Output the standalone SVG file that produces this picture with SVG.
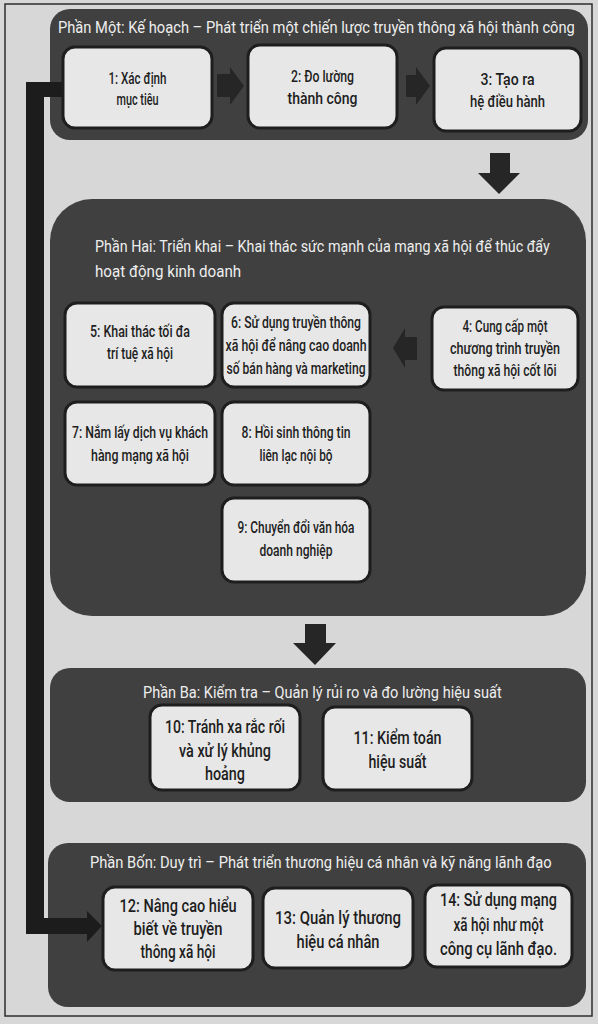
<svg xmlns="http://www.w3.org/2000/svg" width="598" height="1024" viewBox="0 0 598 1024">
<style>
.panel{fill:#404040}
.box{fill:#e7e7e7;stroke:#1e1e1e;stroke-width:3}
.title{font-family:Roboto,"Noto Sans","Liberation Sans",sans-serif;font-size:17px;fill:#eeeeee}
.t{font-family:Roboto,"Noto Sans","Liberation Sans",sans-serif;font-weight:500;fill:#1e1e1e;text-anchor:middle}
.s1{font-size:17px}
.s2{font-size:16px}
.s3{font-size:18.5px}
.arr{fill:#262626}
.bar{fill:#1c1c1c}
</style>
<rect x="0" y="0" width="598" height="1024" fill="#d7d7d7"/>
<rect x="5" y="4" width="587" height="1012" fill="none" stroke="#2e2e2e" stroke-width="1.5"/>

<g id="phase1">
<rect class="panel" x="50" y="9" width="538" height="131" rx="20"/>
<text class="title" transform="translate(58,33) scale(0.85,1)" x="0" y="0" textLength="608" lengthAdjust="spacingAndGlyphs">Phần Một: Kế hoạch – Phát triển một chiến lược truyền thông xã hội thành công</text>
</g>
<g id="phase2">
<rect class="panel" x="50" y="199" width="536" height="417" rx="42"/>
<text class="title" transform="translate(95,252) scale(0.85,1)" x="0" y="0" textLength="535" lengthAdjust="spacingAndGlyphs">Phần Hai: Triển khai – Khai thác sức mạnh của mạng xã hội để thúc đẩy</text>
<text class="title" transform="translate(95,277) scale(0.85,1)" x="0" y="0" textLength="172" lengthAdjust="spacingAndGlyphs">hoạt động kinh doanh</text>
</g>
<g id="phase3">
<rect class="panel" x="50" y="668" width="536" height="134" rx="20"/>
<text class="title" transform="translate(143,698) scale(0.85,1)" x="0" y="0" textLength="422" lengthAdjust="spacingAndGlyphs">Phần Ba: Kiểm tra – Quản lý rủi ro và đo lường hiệu suất</text>
</g>
<g id="phase4">
<rect class="panel" x="48" y="843" width="538" height="164" rx="20"/>
<text class="title" transform="translate(90,868) scale(0.85,1)" x="0" y="0" textLength="543" lengthAdjust="spacingAndGlyphs">Phần Bốn: Duy trì – Phát triển thương hiệu cá nhân và kỹ năng lãnh đạo</text>
</g>

<g id="connectors">
<path class="bar" d="M26,82 H63 V97 H44 V918 H87 V911 L102,926 L87,942 V934 H26 Z"/>
<path class="arr" d="M217,74 H230 V67 L244,86 L230,105 V97 H217 Z"/>
<path class="arr" d="M406,75 H416 V67 L430,86 L416,105 V97 H406 Z"/>
<path class="arr" d="M417,337 H405 V328 L393,348 L405,368 V360 H417 Z"/>
<path class="arr" d="M490,153 H510 V173 H520 L499,194 L478,173 H490 Z"/>
<path class="arr" d="M305,624 H326 V643 H336 L315,665 L293,643 H305 Z"/>
</g>

<g id="node1">
<rect class="box" x="63" y="47" width="149" height="81" rx="12"/>
<text class="t s1" x="137.5" y="84" textLength="58" lengthAdjust="spacingAndGlyphs">1: Xác định</text>
<text class="t s1" x="137.5" y="105" textLength="42" lengthAdjust="spacingAndGlyphs">mục tiêu</text>
</g>
<g id="node2">
<rect class="box" x="248" y="45" width="149" height="83" rx="12"/>
<text class="t s1" x="322.5" y="82" textLength="63" lengthAdjust="spacingAndGlyphs">2: Đo lường</text>
<text class="t s1" x="322.5" y="104" textLength="70" lengthAdjust="spacingAndGlyphs">thành công</text>
</g>
<g id="node3">
<rect class="box" x="434" y="48" width="147" height="83" rx="12"/>
<text class="t s1" x="507.5" y="85" textLength="54" lengthAdjust="spacingAndGlyphs">3: Tạo ra</text>
<text class="t s1" x="507.5" y="107" textLength="75" lengthAdjust="spacingAndGlyphs">hệ điều hành</text>
</g>
<g id="node4">
<rect class="box" x="432" y="307" width="146" height="83" rx="12"/>
<text class="t s2" x="505" y="332" textLength="85" lengthAdjust="spacingAndGlyphs">4: Cung cấp một</text>
<text class="t s2" x="505" y="354" textLength="110" lengthAdjust="spacingAndGlyphs">chương trình truyền</text>
<text class="t s2" x="505" y="376" textLength="103" lengthAdjust="spacingAndGlyphs">thông xã hội cốt lõi</text>
</g>
<g id="node5">
<rect class="box" x="65" y="303" width="150" height="84" rx="12"/>
<text class="t s2" x="140" y="337" textLength="100" lengthAdjust="spacingAndGlyphs">5: Khai thác tối đa</text>
<text class="t s2" x="140" y="359" textLength="66" lengthAdjust="spacingAndGlyphs">trí tuệ xã hội</text>
</g>
<g id="node6">
<rect class="box" x="222" y="303" width="148" height="84" rx="12"/>
<text class="t s2" x="296" y="328" textLength="130" lengthAdjust="spacingAndGlyphs">6: Sử dụng truyền thông</text>
<text class="t s2" x="296" y="351" textLength="141" lengthAdjust="spacingAndGlyphs">xã hội để nâng cao doanh</text>
<text class="t s2" x="296" y="374" textLength="139" lengthAdjust="spacingAndGlyphs">số bán hàng và marketing</text>
</g>
<g id="node7">
<rect class="box" x="65" y="402" width="150" height="83" rx="12"/>
<text class="t s2" x="140" y="438" textLength="136" lengthAdjust="spacingAndGlyphs">7: Nắm lấy dịch vụ khách</text>
<text class="t s2" x="140" y="461" textLength="98" lengthAdjust="spacingAndGlyphs">hàng mạng xã hội</text>
</g>
<g id="node8">
<rect class="box" x="222" y="402" width="148" height="83" rx="12"/>
<text class="t s2" x="296" y="438" textLength="109" lengthAdjust="spacingAndGlyphs">8: Hồi sinh thông tin</text>
<text class="t s2" x="296" y="461" textLength="73" lengthAdjust="spacingAndGlyphs">liên lạc nội bộ</text>
</g>
<g id="node9">
<rect class="box" x="222" y="498" width="148" height="84" rx="12"/>
<text class="t s2" x="296" y="533" textLength="117" lengthAdjust="spacingAndGlyphs">9: Chuyển đổi văn hóa</text>
<text class="t s2" x="296" y="556" textLength="73" lengthAdjust="spacingAndGlyphs">doanh nghiệp</text>
</g>
<g id="node10">
<rect class="box" x="150" y="705" width="150" height="85" rx="12"/>
<text class="t s3" x="225" y="733" textLength="120" lengthAdjust="spacingAndGlyphs">10: Tránh xa rắc rối</text>
<text class="t s3" x="225" y="757" textLength="92" lengthAdjust="spacingAndGlyphs">và xử lý khủng</text>
<text class="t s3" x="225" y="780" textLength="40" lengthAdjust="spacingAndGlyphs">hoảng</text>
</g>
<g id="node11">
<rect class="box" x="323" y="707" width="149" height="83" rx="12"/>
<text class="t s3" x="397.5" y="744" textLength="88" lengthAdjust="spacingAndGlyphs">11: Kiểm toán</text>
<text class="t s3" x="397.5" y="768" textLength="58" lengthAdjust="spacingAndGlyphs">hiệu suất</text>
</g>
<g id="node12">
<rect class="box" x="103" y="887" width="150" height="83" rx="12"/>
<text class="t s3" x="178" y="912" textLength="117" lengthAdjust="spacingAndGlyphs">12: Nâng cao hiểu</text>
<text class="t s3" x="178" y="935" textLength="89" lengthAdjust="spacingAndGlyphs">biết về truyền</text>
<text class="t s3" x="178" y="958" textLength="75" lengthAdjust="spacingAndGlyphs">thông xã hội</text>
</g>
<g id="node13">
<rect class="box" x="263" y="888" width="150" height="80" rx="12"/>
<text class="t s3" x="338" y="924" textLength="126" lengthAdjust="spacingAndGlyphs">13: Quản lý thương</text>
<text class="t s3" x="338" y="948" textLength="83" lengthAdjust="spacingAndGlyphs">hiệu cá nhân</text>
</g>
<g id="node14">
<rect class="box" x="425" y="885" width="147" height="82" rx="12"/>
<text class="t s3" x="498.5" y="906" textLength="117" lengthAdjust="spacingAndGlyphs">14: Sử dụng mạng</text>
<text class="t s3" x="498.5" y="931" textLength="90" lengthAdjust="spacingAndGlyphs">xã hội như một</text>
<text class="t s3" x="498.5" y="955" textLength="117" lengthAdjust="spacingAndGlyphs">công cụ lãnh đạo.</text>
</g>
</svg>
